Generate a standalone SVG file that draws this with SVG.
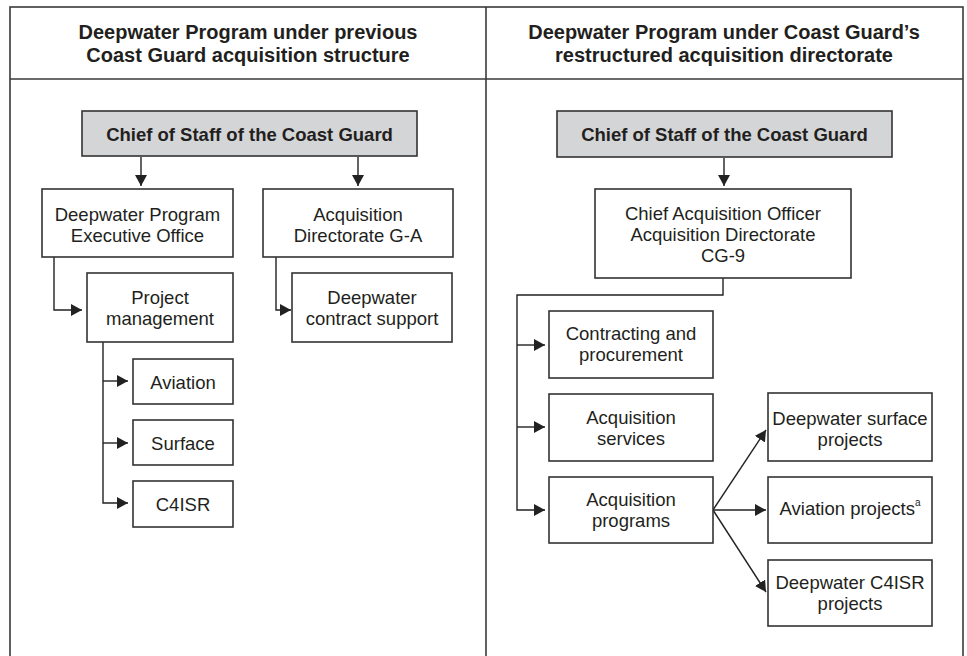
<svg xmlns="http://www.w3.org/2000/svg" width="967" height="656" viewBox="0 0 967 656">
<style>
.frame{fill:none;stroke:#3a3a3a;stroke-width:1.6}
.box{fill:#fff;stroke:#333;stroke-width:1.6}
.gray{fill:#d4d5d7;stroke:#333;stroke-width:1.6}
.ln{fill:none;stroke:#222;stroke-width:1.4}
text{font-family:"Liberation Sans",Arial,Helvetica,sans-serif;fill:#231f20;text-anchor:middle}
.hd{font-size:20px;font-weight:bold}
.b{font-size:18.5px;font-weight:bold}
.t{font-size:18.5px}
</style>
<defs>
<marker id="ah" markerUnits="userSpaceOnUse" markerWidth="12" markerHeight="12" viewBox="0 0 12 12" refX="11" refY="6" orient="auto">
<path d="M0,0 L11,6 L0,12 Z" fill="#222"/>
</marker>
</defs>
<rect width="967" height="656" fill="#fff"/>
<g id="frame">
<rect class="frame" x="10" y="7" width="953" height="660"/>
<line class="frame" x1="10" y1="79" x2="963" y2="79"/>
<line class="frame" x1="486" y1="7" x2="486" y2="660"/>
<text class="hd" x="248" y="39">Deepwater Program under previous</text>
<text class="hd" x="248" y="62">Coast Guard acquisition structure</text>
<text class="hd" x="724" y="39">Deepwater Program under Coast Guard’s</text>
<text class="hd" x="724" y="62">restructured acquisition directorate</text>
</g>
<g id="connectors">
<line class="ln" x1="141" y1="157" x2="141" y2="186" marker-end="url(#ah)"/>
<line class="ln" x1="358" y1="157" x2="358" y2="186" marker-end="url(#ah)"/>
<polyline class="ln" points="54,257 54,310 82,310" marker-end="url(#ah)"/>
<polyline class="ln" points="276,257 276,310 291,310" marker-end="url(#ah)"/>
<polyline class="ln" points="103,342 103,503 128,503" marker-end="url(#ah)"/>
<line class="ln" x1="103" y1="381" x2="128" y2="381" marker-end="url(#ah)"/>
<line class="ln" x1="103" y1="443" x2="128" y2="443" marker-end="url(#ah)"/>
<line class="ln" x1="724" y1="158" x2="724" y2="186" marker-end="url(#ah)"/>
<polyline class="ln" points="723,278 723,295 517,295 517,510 545,510" marker-end="url(#ah)"/>
<line class="ln" x1="517" y1="345" x2="545" y2="345" marker-end="url(#ah)"/>
<line class="ln" x1="517" y1="427" x2="545" y2="427" marker-end="url(#ah)"/>
<line class="ln" x1="713" y1="510" x2="766" y2="430" marker-end="url(#ah)"/>
<line class="ln" x1="713" y1="510" x2="766" y2="510" marker-end="url(#ah)"/>
<line class="ln" x1="713" y1="510" x2="766" y2="592" marker-end="url(#ah)"/>
</g>
<g id="chief-left">
<rect class="gray" x="82" y="111" width="335" height="45"/>
<text class="b" x="249.5" y="141">Chief of Staff of the Coast Guard</text>
</g>
<g id="dpeo">
<rect class="box" x="42" y="189" width="191" height="68"/>
<text class="t" x="137.5" y="221">Deepwater Program</text>
<text class="t" x="137.5" y="242">Executive Office</text>
</g>
<g id="acq-ga">
<rect class="box" x="263" y="189" width="190" height="68"/>
<text class="t" x="358" y="221">Acquisition</text>
<text class="t" x="358" y="242">Directorate G-A</text>
</g>
<g id="project-mgmt">
<rect class="box" x="87" y="273" width="146" height="69"/>
<text class="t" x="160" y="304">Project</text>
<text class="t" x="160" y="325">management</text>
</g>
<g id="contract-support">
<rect class="box" x="292" y="273" width="160" height="69"/>
<text class="t" x="372" y="304">Deepwater</text>
<text class="t" x="372" y="325">contract support</text>
</g>
<g id="aviation">
<rect class="box" x="133" y="359" width="100" height="45"/>
<text class="t" x="183" y="389">Aviation</text>
</g>
<g id="surface">
<rect class="box" x="133" y="420" width="100" height="45"/>
<text class="t" x="183" y="450">Surface</text>
</g>
<g id="c4isr">
<rect class="box" x="133" y="481" width="100" height="46"/>
<text class="t" x="183" y="511">C4ISR</text>
</g>
<g id="chief-right">
<rect class="gray" x="557" y="111" width="335" height="46"/>
<text class="b" x="724.5" y="141">Chief of Staff of the Coast Guard</text>
</g>
<g id="cao">
<rect class="box" x="595" y="189" width="256" height="89"/>
<text class="t" x="723" y="220">Chief Acquisition Officer</text>
<text class="t" x="723" y="241">Acquisition Directorate</text>
<text class="t" x="723" y="262">CG-9</text>
</g>
<g id="contracting">
<rect class="box" x="549" y="311" width="164" height="67"/>
<text class="t" x="631" y="340">Contracting and</text>
<text class="t" x="631" y="361">procurement</text>
</g>
<g id="acq-services">
<rect class="box" x="549" y="394" width="164" height="67"/>
<text class="t" x="631" y="424">Acquisition</text>
<text class="t" x="631" y="445">services</text>
</g>
<g id="acq-programs">
<rect class="box" x="549" y="477" width="164" height="66"/>
<text class="t" x="631" y="506">Acquisition</text>
<text class="t" x="631" y="527">programs</text>
</g>
<g id="dw-surface">
<rect class="box" x="768" y="393" width="164" height="68"/>
<text class="t" x="850" y="425">Deepwater surface</text>
<text class="t" x="850" y="446">projects</text>
</g>
<g id="aviation-projects">
<rect class="box" x="768" y="477" width="164" height="66"/>
<text class="t" x="850" y="515">Aviation projects<tspan dy="-9" font-size="10">a</tspan></text>
</g>
<g id="dw-c4isr">
<rect class="box" x="768" y="560" width="164" height="66"/>
<text class="t" x="850" y="589">Deepwater C4ISR</text>
<text class="t" x="850" y="610">projects</text>
</g>
</svg>
